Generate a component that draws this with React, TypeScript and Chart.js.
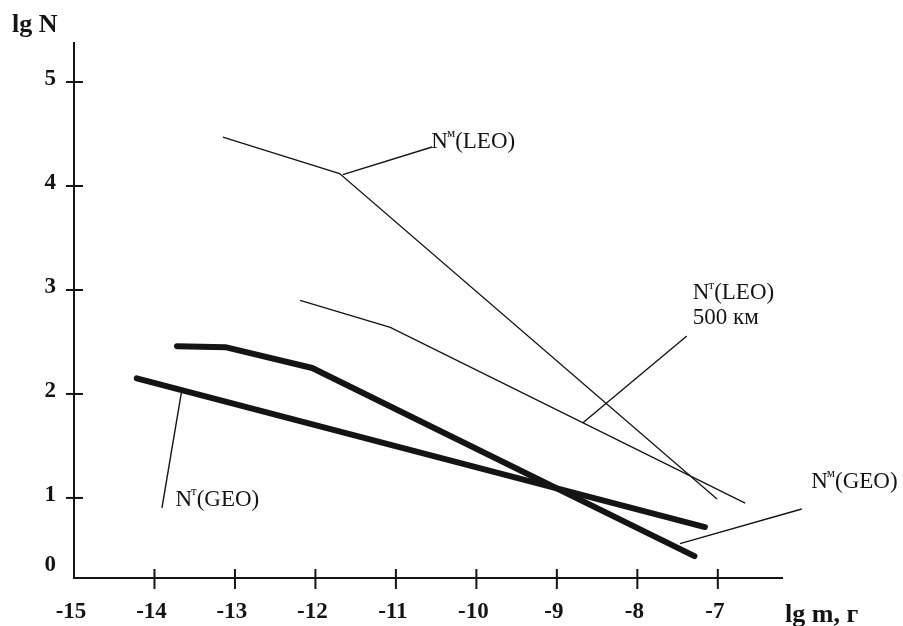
import React, { useEffect, useRef } from "react";
import { Chart, registerables } from "chart.js";

Chart.register(...registerables);

// ---- data (lg m, g  vs  lg N) ----
const nmLeoX = [-13.15, -11.7, -7.01];
const nmLeoY = [4.47, 4.12, 0.99];
const ntLeoX = [-12.19, -11.07, -6.66];
const ntLeoY = [2.9, 2.64, 0.95];
const nmGeoX = [-13.72, -13.12, -12.04, -7.29];
const nmGeoY = [2.46, 2.45, 2.25, 0.44];
const ntGeoX = [-14.22, -7.16];
const ntGeoY = [2.15, 0.72];

// leader lines from labels to curves
const leadNmLeoX = [-11.66, -10.55];
const leadNmLeoY = [4.11, 4.375];
const leadNtLeoX = [-8.68, -7.385];
const leadNtLeoY = [1.72, 2.558];
const leadNmGeoX = [-7.47, -5.957];
const leadNmGeoY = [0.56, 0.894];
const leadNtGeoX = [-13.66, -13.907];
const leadNtGeoY = [2.04, 0.904];

// ticks
const xTickValues = [-14, -13, -12, -11, -10, -9, -8, -7];
const xTickLabels = ["-15", "-14", "-13", "-12", "-11", "-10", "-9", "-8", "-7"];
const xLabelValues = [-15, -14, -13, -12, -11, -10, -9, -8, -7];
const yTickValues = [1, 2, 3, 4, 5];
const yTickLabels = ["0", "1", "2", "3", "4", "5"];

const xTitle = "lg m, г";
const yTitle = "lg N";

const X_MIN = -15;
const X_MAX = -6.19;
const Y_MIN = 0.23;
const Y_MAX = 5.385;

const labels = [
  { base: "N", sup: "м", rest: "(LEO)", x: -10.56, y: 4.423 },
  { base: "N", sup: "т", rest: "(LEO)", x: -7.31, y: 2.97 },
  { base: "500 км", sup: "", rest: "", x: -7.31, y: 2.73 },
  { base: "N", sup: "м", rest: "(GEO)", x: -5.84, y: 1.154 },
  { base: "N", sup: "т", rest: "(GEO)", x: -13.74, y: 0.981 },
];

const zip = (xs: number[], ys: number[]) => xs.map((x, i) => ({ x, y: ys[i] }));

const INK = "#141414";
const SERIF = "'Liberation Serif', 'DejaVu Serif', serif";

const axesPlugin = {
  id: "paperAxes",
  afterDatasetsDraw(chart: any) {
    const ctx = chart.ctx;
    const xs = chart.scales.x;
    const ys = chart.scales.y;
    const x0 = xs.getPixelForValue(X_MIN);
    const x1 = xs.getPixelForValue(X_MAX);
    const y0 = ys.getPixelForValue(Y_MIN);
    const y1 = ys.getPixelForValue(Y_MAX);
    ctx.save();
    ctx.strokeStyle = INK;
    ctx.fillStyle = INK;
    ctx.lineWidth = 2;
    ctx.lineCap = "butt";
    ctx.beginPath();
    ctx.moveTo(x0, y1);
    ctx.lineTo(x0, y0);
    ctx.lineTo(x1, y0);
    ctx.stroke();

    // y ticks
    yTickValues.forEach((v) => {
      const py = ys.getPixelForValue(v);
      ctx.beginPath();
      ctx.moveTo(x0 - 8, py);
      ctx.lineTo(x0 + 9, py);
      ctx.stroke();
    });
    // x ticks
    xTickValues.forEach((v) => {
      const px = xs.getPixelForValue(v);
      ctx.beginPath();
      ctx.moveTo(px, y0 - 9);
      ctx.lineTo(px, y0 + 11);
      ctx.stroke();
    });

    // tick labels
    ctx.font = `bold 23px ${SERIF}`;
    ctx.textBaseline = "middle";
    ctx.textAlign = "right";
    yTickLabels.forEach((t, i) => {
      const py = i === 0 ? y0 - 13 : ys.getPixelForValue(yTickValues[i - 1]) - 3;
      ctx.fillText(t, x0 - 18, py);
    });
    ctx.textAlign = "center";
    xTickLabels.forEach((t, i) => {
      const px = xs.getPixelForValue(xLabelValues[i]) - 3;
      ctx.fillText(t, px, y0 + 34);
    });

    // axis titles
    ctx.font = `bold 26px ${SERIF}`;
    ctx.textAlign = "left";
    ctx.fillText(yTitle, 12, y1 - 17);
    ctx.fillText(xTitle, x1 + 2, y0 + 37);

    // curve labels
    labels.forEach((l) => {
      const px = xs.getPixelForValue(l.x);
      const py = ys.getPixelForValue(l.y);
      ctx.textAlign = "left";
      ctx.textBaseline = "middle";
      ctx.font = `23px ${SERIF}`;
      ctx.fillText(l.base, px, py);
      let cx = px + ctx.measureText(l.base).width;
      if (l.sup) {
        ctx.font = `13px ${SERIF}`;
        ctx.fillText(l.sup, cx - 1, py - 8);
        cx += ctx.measureText(l.sup).width - 1;
      }
      if (l.rest) {
        ctx.font = `23px ${SERIF}`;
        ctx.fillText(l.rest, cx, py);
      }
    });
    ctx.restore();
  },
};

export default function App() {
  const ref = useRef<HTMLCanvasElement | null>(null);

  useEffect(() => {
    if (!ref.current) return;
    const thin = (data: { x: number; y: number }[], w = 1.3) => ({
      data,
      borderColor: INK,
      borderWidth: w,
      pointRadius: 0,
      tension: 0,
      fill: false,
      clip: false as any,
      borderCapStyle: "butt" as const,
    });
    const thick = (data: { x: number; y: number }[]) => ({
      data,
      borderColor: INK,
      borderWidth: 6,
      pointRadius: 0,
      tension: 0,
      fill: false,
      clip: false as any,
      borderCapStyle: "round" as const,
      borderJoinStyle: "round" as const,
    });
    const chart = new Chart(ref.current, {
      type: "line",
      data: {
        datasets: [
          { label: "Nм(LEO)", ...thin(zip(nmLeoX, nmLeoY)) },
          { label: "Nт(LEO) 500 км", ...thin(zip(ntLeoX, ntLeoY)) },
          { label: "Nм(GEO)", ...thick(zip(nmGeoX, nmGeoY)) },
          { label: "Nт(GEO)", ...thick(zip(ntGeoX, ntGeoY)) },
          { label: "lead1", ...thin(zip(leadNmLeoX, leadNmLeoY), 1.4) },
          { label: "lead2", ...thin(zip(leadNtLeoX, leadNtLeoY), 1.4) },
          { label: "lead3", ...thin(zip(leadNmGeoX, leadNmGeoY), 1.4) },
          { label: "lead4", ...thin(zip(leadNtGeoX, leadNtGeoY), 1.4) },
        ] as any,
      },
      options: {
        animation: false,
        responsive: true,
        maintainAspectRatio: false,
        layout: { padding: { left: 74, top: 42, right: 120, bottom: 48 } },
        plugins: { legend: { display: false }, tooltip: { enabled: false } },
        scales: {
          x: { type: "linear", min: X_MIN, max: X_MAX, display: false },
          y: { type: "linear", min: Y_MIN, max: Y_MAX, display: false },
        },
      },
      plugins: [axesPlugin],
    });
    return () => chart.destroy();
  }, []);

  return (
    <div style={{ position: "fixed", left: 0, top: 0, width: 903, height: 626, background: "#fff" }}>
      <canvas ref={ref} />
    </div>
  );
}
